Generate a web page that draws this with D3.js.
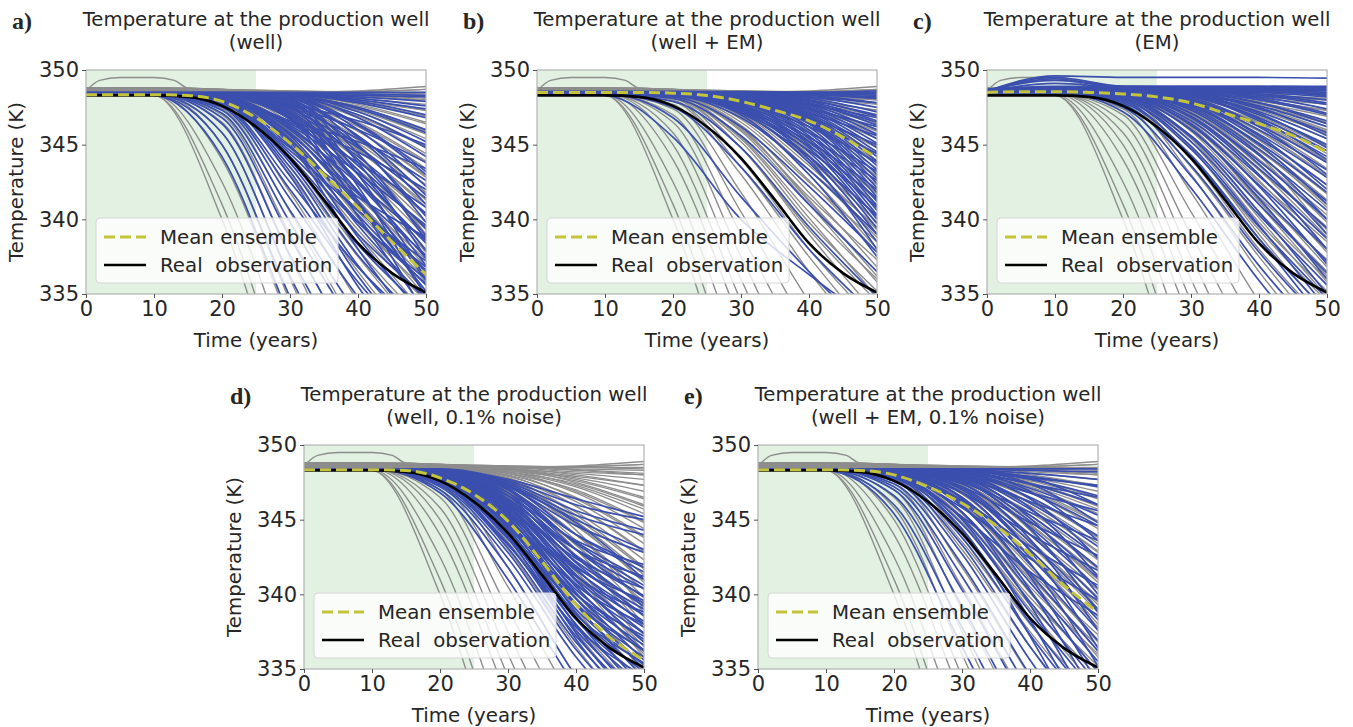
<!DOCTYPE html>
<html><head><meta charset="utf-8">
<script src="https://cdn.jsdelivr.net/npm/d3@7"></script>
<style>
body{margin:0;background:#fff}
svg text{font-family:"DejaVu Sans",sans-serif;fill:#262626}
</style>
</head><body>
<svg id="fig" width="1353" height="727"></svg>
<script>
// Sampling years for every ensemble run
const years = [0, 10, 20, 30, 40, 50];
// Years for the observation and ensemble-mean curves
const obsYears = [0, 5, 10, 15, 20, 25, 30, 35, 40, 45, 50];

const yTicks = [335, 340, 345, 350];
const xTicks = [0, 10, 20, 30, 40, 50];

// Real observation at the production well (K)
const observed = [348.3, 348.3, 348.3, 348.2, 347.6, 346.2, 344.1, 341.3, 338.4, 336.4, 335.1];

// Ensemble means for each case (K)
const meanA = [348.35, 348.35, 348.35, 348.3, 347.9, 346.8, 345.1, 343.0, 340.8, 338.5, 336.3];
const meanB = [348.5, 348.5, 348.5, 348.5, 348.45, 348.3, 347.9, 347.3, 346.6, 345.5, 344.1];
const meanC = [348.5, 348.55, 348.55, 348.5, 348.4, 348.2, 347.8, 347.1, 346.4, 345.6, 344.5];
const meanD = [348.35, 348.35, 348.35, 348.3, 347.8, 346.7, 344.9, 342.2, 339.3, 337.1, 335.6];
const meanE = [348.35, 348.35, 348.35, 348.3, 348.0, 347.2, 346.1, 344.6, 342.7, 340.6, 338.8];

// Prior ensemble (same in every case), temperatures at `years`
const priorRuns = [
 [348.4,348.3,340.0,326,314,306],
 [348.4,348.3,341.0,328,316,308],
 [348.4,348.35,342.5,330.5,319,311],
 [348.4,348.4,344.0,333,322,314],
 [348.4,348.4,345.0,334.5,324,316],
 [348.4,348.4,345.8,336,326,318],
 [348.4,348.4,346.5,337.5,328,320],
 [348.4,348.4,347.0,339,330.5,323],
 [348.4,348.4,347.4,340.5,332.5,326],
 [348.4,348.4,347.7,341.8,334.5,328],
 [348.4,348.4,347.9,343,336.5,331],
 [348.5,348.5,348.1,344,338,333],
 [348.5,348.5,348.2,344.8,339.3,334.5],
 [348.5,348.5,348.3,345.5,340.5,336],
 [348.5,348.5,348.3,346,341.5,337.3],
 [348.5,348.5,348.4,346.5,342.5,338.5],
 [348.5,348.5,348.4,346.9,343.3,339.5],
 [348.5,348.5,348.4,347.2,344,340.3],
 [348.6,348.6,348.5,347.4,344.6,341],
 [348.6,348.6,348.5,347.6,345.1,341.7],
 [348.6,348.6,348.5,347.7,345.5,342.3],
 [348.6,348.6,348.5,347.8,345.9,342.9],
 [348.6,348.6,348.5,347.9,346.2,343.4],
 [348.6,348.6,348.5,348,346.5,343.9],
 [348.6,348.6,348.5,348.1,346.8,344.4],
 [348.6,348.6,348.5,348.1,347,344.9],
 [348.6,348.6,348.6,348.2,347.2,345.4],
 [348.6,348.6,348.6,348.2,347.4,345.9],
 [348.7,348.7,348.6,348.3,347.6,346.4],
 [348.7,348.7,348.6,348.3,347.8,346.9],
 [348.7,348.7,348.6,348.4,347.9,347.3],
 [348.7,348.7,348.6,348.4,348.1,347.7],
 [348.7,348.7,348.6,348.5,348.2,348.0],
 [348.7,348.7,348.6,348.5,348.4,348.3],
 [348.8,348.8,348.7,348.5,348.5,348.5],
 [348.8,348.8,348.7,348.5,348.6,348.9],
 [348.5,348.5,348.0,343.5,337.5,332],
 [348.5,348.5,348.2,345.2,339.8,335.2],
 [348.6,348.6,348.4,346.2,341.2,336.5],
 [348.6,348.6,348.5,347.0,343.0,338.0],
 [348.6,348.6,348.5,347.5,344.3,339.0],
 [348.7,348.7,348.65,348.5,348.3,348.0],
 [348.7,348.7,348.6,348.45,348.0,347.3],
 [348.7,348.7,348.6,348.4,347.7,346.5],
 [348.65,348.65,348.6,348.3,347.3,345.7],
 [348.65,348.65,348.55,348.2,346.9,344.8],
 [348.65,348.65,348.55,348.1,346.4,343.8],
 [348.6,348.6,348.5,347.95,345.9,342.8],
 [348.6,348.6,348.5,347.8,345.3,341.8],
 [348.6,348.6,348.45,347.6,344.7,340.8],
 [348.6,348.6,348.4,347.3,344.0,339.8],
 [348.55,348.55,348.4,347.0,343.3,338.8],
 [348.55,348.55,348.35,346.7,342.6,337.8],
 [348.55,348.55,348.3,346.3,341.8,336.8],
 [348.5,348.5,348.25,345.9,341.0,335.8],
 [348.5,348.5,348.2,345.4,340.1,334.8],
 [348.5,348.5,348.1,344.8,339.0,333.6],
 [348.8,348.8,348.7,348.6,348.5,348.4],
 [348.8,348.8,348.7,348.6,348.55,348.7],
 [348.75,348.75,348.65,348.55,348.35,348.1],
 [348.7,348.7,348.6,348.4,347.5,346.0],
 [348.6,348.6,348.5,347.7,344.9,341.3],
 [348.55,348.55,348.4,347.1,343.6,339.3],
 [348.5,348.5,348.3,346.1,341.3,336.2]
];
// Prior run with an early warm bump
const bumpYears = [0, 2, 5, 10, 13, 15, 20, 25, 35, 50];
const bumpTemps = [348.6, 349.3, 349.5, 349.5, 349.3, 348.8, 348.7, 348.6, 348.5, 348.7];

// Posterior ensembles for the five cases, temperatures at `years`
const runsA = [
 [348.4,348.4,348.4,348.4,348.3,348.2],
 [348.4,348.4,348.4,348.4,348.2,347.9],
 [348.4,348.4,348.4,348.4,348.0,347.4],
 [348.4,348.4,348.4,348.35,347.8,346.8],
 [348.4,348.4,348.4,348.3,347.5,346.0],
 [348.4,348.4,348.4,348.3,347.2,345.2],
 [348.4,348.4,348.4,348.3,346.8,344.2],
 [348.4,348.4,348.4,348.2,346.4,343.2],
 [348.4,348.4,348.4,348.2,346.0,342.2],
 [348.4,348.4,348.4,348.1,345.5,341.0],
 [348.4,348.4,348.4,348.1,345.0,339.8],
 [348.4,348.4,348.4,348.0,344.4,338.6],
 [348.4,348.4,348.4,348.0,343.8,337.4],
 [348.4,348.4,348.4,347.9,343.0,336.0],
 [348.4,348.4,348.4,347.8,342.2,334.8],
 [348.4,348.4,348.4,347.6,341.2,333.5],
 [348.4,348.4,348.35,347.7,346.6,345.0],
 [348.4,348.4,348.35,347.6,346.0,343.8],
 [348.4,348.4,348.35,347.5,345.4,342.6],
 [348.4,348.4,348.3,347.4,344.8,341.4],
 [348.4,348.4,348.3,347.3,344.2,340.4],
 [348.4,348.4,348.3,347.2,343.6,339.4],
 [348.4,348.4,348.3,347.1,343.0,338.4],
 [348.4,348.4,348.3,347.0,342.4,337.4],
 [348.4,348.4,348.3,346.9,341.8,336.4],
 [348.4,348.4,348.3,346.8,341.0,335.2],
 [348.4,348.4,348.3,346.7,340.2,333.8],
 [348.4,348.4,348.25,346.6,345.2,343.4],
 [348.4,348.4,348.25,346.5,344.5,342.0],
 [348.4,348.4,348.2,346.4,343.8,340.8],
 [348.4,348.4,348.2,346.3,343.1,339.6],
 [348.4,348.4,348.2,346.1,342.4,338.6],
 [348.4,348.4,348.2,346.0,341.7,337.6],
 [348.4,348.4,348.15,345.8,341.0,336.6],
 [348.4,348.4,348.15,345.6,340.3,335.6],
 [348.4,348.4,348.1,345.4,339.6,334.6],
 [348.4,348.4,348.1,345.2,338.8,333.4],
 [348.4,348.4,348.1,345.0,338.0,332.0],
 [348.4,348.4,348.05,344.8,341.5,338.8],
 [348.4,348.4,348.0,344.6,340.6,337.2],
 [348.4,348.4,348.0,344.4,339.8,336.0],
 [348.4,348.4,348.0,344.2,339.0,334.8],
 [348.4,348.4,347.95,344.0,338.3,333.8],
 [348.4,348.4,347.9,343.8,337.6,332.8],
 [348.4,348.4,347.9,343.5,336.9,331.8],
 [348.4,348.4,347.85,343.2,336.2,330.8],
 [348.4,348.4,347.8,342.9,335.5,329.8],
 [348.4,348.4,347.7,342.5,336.8,332.5],
 [348.4,348.4,347.6,342.0,335.8,331.0],
 [348.4,348.4,347.5,341.4,334.8,329.5],
 [348.4,348.4,347.3,340.6,333.6,328.0],
 [348.4,348.4,347.1,339.8,332.4,326.5],
 [348.4,348.4,346.8,338.8,331.0,325.0],
 [348.4,348.4,346.4,337.6,329.5,323.0],
 [348.4,348.35,345.8,336.2,327.5,321.0],
 [348.4,348.3,345.0,334.8,325.5,318.5],
 [348.4,348.3,344.2,333.4,323.5,316.0],
 [348.5,348.5,348.5,348.5,348.5,348.5],
 [348.5,348.5,348.5,348.45,348.4,348.3],
 [348.45,348.45,348.45,348.4,348.1,347.6],
 [348.45,348.45,348.45,348.4,347.9,347.0],
 [348.45,348.45,348.4,348.3,347.4,345.8],
 [348.45,348.45,348.4,348.2,347.0,344.8],
 [348.45,348.45,348.4,348.1,346.3,343.0],
 [348.45,348.45,348.35,347.9,345.6,341.6],
 [348.45,348.45,348.35,347.7,344.9,340.2],
 [348.4,348.4,348.3,347.45,344.0,338.9],
 [348.4,348.4,348.3,347.1,343.3,337.9],
 [348.4,348.4,348.25,346.7,342.6,336.9],
 [348.4,348.4,348.2,346.2,341.9,335.9],
 [348.4,348.4,348.15,345.7,341.2,334.9],
 [348.4,348.4,348.1,345.3,340.6,336.8],
 [348.4,348.4,348.05,344.9,339.9,335.7]
];

const runsB = [
 [348.5,348.5,348.5,348.5,348.5,348.6],
 [348.5,348.5,348.5,348.5,348.5,348.5],
 [348.5,348.5,348.5,348.5,348.45,348.3],
 [348.5,348.5,348.5,348.5,348.4,348.1],
 [348.5,348.5,348.5,348.45,348.3,347.8],
 [348.5,348.5,348.5,348.45,348.2,347.5],
 [348.5,348.5,348.5,348.4,348.1,347.2],
 [348.5,348.5,348.5,348.4,348.0,346.9],
 [348.5,348.5,348.5,348.4,347.9,346.6],
 [348.5,348.5,348.5,348.35,347.8,346.3],
 [348.5,348.5,348.5,348.35,347.7,346.0],
 [348.5,348.5,348.5,348.3,347.6,345.7],
 [348.5,348.5,348.5,348.3,347.5,345.4],
 [348.5,348.5,348.5,348.3,347.4,345.1],
 [348.5,348.5,348.5,348.25,347.3,344.8],
 [348.5,348.5,348.5,348.25,347.2,344.5],
 [348.5,348.5,348.5,348.2,347.1,344.2],
 [348.5,348.5,348.5,348.2,347.0,343.9],
 [348.5,348.5,348.5,348.2,346.9,343.6],
 [348.5,348.5,348.5,348.15,346.8,343.3],
 [348.5,348.5,348.5,348.1,346.7,343.0],
 [348.5,348.5,348.5,348.1,346.6,342.7],
 [348.5,348.5,348.5,348.05,346.5,342.4],
 [348.5,348.5,348.5,348.0,346.4,342.1],
 [348.5,348.5,348.45,348.0,346.2,341.8],
 [348.5,348.5,348.45,347.95,346.0,341.5],
 [348.5,348.5,348.45,347.9,345.8,341.2],
 [348.5,348.5,348.45,347.85,345.6,340.9],
 [348.5,348.5,348.45,347.8,345.4,340.6],
 [348.5,348.5,348.4,347.7,345.2,340.3],
 [348.5,348.5,348.4,347.6,345.0,340.0],
 [348.5,348.5,348.4,347.5,344.8,339.7],
 [348.5,348.5,348.4,347.4,344.5,339.4],
 [348.5,348.5,348.4,347.3,344.2,339.0],
 [348.5,348.5,348.5,348.3,347.7,346.8],
 [348.5,348.5,348.5,348.2,347.4,346.2],
 [348.5,348.5,348.5,348.1,347.1,345.6],
 [348.5,348.5,348.5,348.0,346.8,345.0],
 [348.5,348.5,348.45,347.9,346.5,344.4],
 [348.5,348.5,348.45,347.8,346.2,343.8],
 [348.5,348.5,348.4,347.6,345.8,343.2],
 [348.5,348.5,348.4,347.5,345.5,342.6],
 [348.5,348.5,348.4,347.4,345.2,342.0],
 [348.5,348.5,348.4,347.3,344.9,341.4],
 [348.5,348.5,348.35,347.2,344.6,340.8],
 [348.5,348.5,348.35,347.1,344.2,340.2],
 [348.5,348.5,348.5,348.4,348.2,347.8],
 [348.5,348.5,348.5,348.45,348.35,348.1],
 [348.55,348.55,348.55,348.55,348.5,348.4],
 [348.55,348.55,348.55,348.5,348.4,348.2],
 [348.5,348.5,348.5,348.4,347.95,347.0],
 [348.5,348.5,348.5,348.35,347.75,346.5],
 [348.4,348.3,345.5,340.0,336.3,333.0],
 [348.4,348.4,346.8,341.5,336.5,332.0],
 [348.4,348.4,347.5,343.5,338.0,333.5],
 [348.4,348.4,347.9,344.8,339.5,334.8],
 [348.4,348.4,348.1,345.6,341.0,336.5],
 [348.4,348.4,348.2,346.2,342.2,337.8],
 [348.5,348.5,348.3,346.8,343.3,339.0],
 [348.5,348.5,348.3,347.0,343.0,337.5],
 [348.5,348.5,348.35,347.2,343.8,338.5],
 [348.5,348.5,348.4,347.5,344.0,338.0]
];

const runsC = [
 [348.7,348.9,348.9,348.9,348.9,348.9],
 [348.7,348.85,348.85,348.85,348.85,348.85],
 [348.7,348.8,348.8,348.8,348.8,348.8],
 [348.65,348.8,348.8,348.8,348.75,348.7],
 [348.65,348.75,348.75,348.75,348.7,348.6],
 [348.6,348.7,348.7,348.7,348.65,348.5],
 [348.6,348.7,348.7,348.7,348.6,348.4],
 [348.6,348.7,348.7,348.65,348.5,348.2],
 [348.6,348.65,348.65,348.6,348.4,348.0],
 [348.6,348.65,348.65,348.6,348.3,347.7],
 [348.6,348.6,348.6,348.55,348.2,347.4],
 [348.6,348.6,348.6,348.5,348.0,347.0],
 [348.55,348.6,348.6,348.5,347.8,346.6],
 [348.55,348.6,348.6,348.45,347.6,346.2],
 [348.55,348.6,348.6,348.4,347.4,345.8],
 [348.55,348.6,348.55,348.35,347.2,345.4],
 [348.55,348.55,348.55,348.3,347.0,345.0],
 [348.55,348.55,348.55,348.25,346.8,344.6],
 [348.5,348.55,348.5,348.2,346.6,344.2],
 [348.5,348.55,348.5,348.1,346.3,343.8],
 [348.5,348.5,348.5,348.0,346.0,343.3],
 [348.5,348.5,348.5,347.9,345.7,342.8],
 [348.5,348.5,348.45,347.8,345.4,342.3],
 [348.5,348.5,348.45,347.7,345.1,341.8],
 [348.5,348.5,348.4,347.5,344.7,341.2],
 [348.5,348.5,348.4,347.3,344.3,340.6],
 [348.5,348.5,348.4,347.1,343.9,340.0],
 [348.5,348.5,348.35,346.9,343.4,339.4],
 [348.5,348.5,348.3,346.6,342.9,338.7],
 [348.5,348.5,348.3,346.3,342.3,338.0],
 [348.5,348.5,348.25,346.0,341.7,337.2],
 [348.5,348.5,348.2,345.6,341.0,336.4],
 [348.5,348.5,348.1,345.2,340.3,335.6],
 [348.5,348.5,348.0,344.7,339.5,334.7],
 [348.5,348.5,347.9,344.2,338.7,333.8],
 [348.5,348.5,347.7,343.6,337.8,332.8],
 [348.5,348.5,347.5,342.9,336.9,331.7],
 [348.5,348.5,347.2,342.1,335.9,330.5],
 [348.65,348.8,348.8,348.75,348.6,348.3],
 [348.65,348.75,348.75,348.7,348.4,347.8],
 [348.6,348.7,348.7,348.6,348.1,347.1],
 [348.6,348.7,348.65,348.5,347.8,346.4],
 [348.6,348.65,348.6,348.4,347.5,345.6],
 [348.6,348.6,348.6,348.3,347.1,344.8],
 [348.55,348.6,348.55,348.2,346.7,344.0],
 [348.55,348.55,348.5,348.0,346.2,343.0],
 [348.5,348.55,348.5,347.8,345.6,342.0],
 [348.5,348.5,348.45,347.6,345.0,341.0],
 [348.5,348.5,348.4,347.4,344.4,340.0],
 [348.5,348.5,348.35,347.1,343.7,339.0],
 [348.5,348.5,348.3,346.8,343.0,338.0],
 [348.5,348.5,348.25,346.4,342.2,337.0],
 [348.5,348.5,348.2,346.0,341.4,336.0],
 [348.5,348.5,348.1,345.5,340.5,335.0],
 [348.5,348.5,348.0,344.9,339.6,334.0],
 [348.5,348.5,347.8,344.3,338.7,333.0],
 [348.6,349.6,349.5,349.5,349.5,349.45],
 [348.6,349.5,348.9,348.85,348.85,348.8],
 [348.6,349.3,348.9,348.9,348.9,348.85],
 [348.6,349.1,348.85,348.8,348.8,348.7],
 [348.6,349.4,348.8,348.75,348.6,348.3]
];

const runsD = [
 [348.4,348.4,347.2,342.4,335.8,331.0],
 [348.4,348.4,347.3,342.8,336.3,331.6],
 [348.4,348.4,347.4,343.1,336.8,332.2],
 [348.4,348.4,347.5,343.4,337.2,332.8],
 [348.4,348.4,347.55,343.7,337.6,333.3],
 [348.4,348.4,347.6,343.9,338.0,333.8],
 [348.4,348.4,347.65,344.1,338.3,334.3],
 [348.4,348.4,347.7,344.3,338.7,334.8],
 [348.4,348.4,347.75,344.5,339.0,335.3],
 [348.4,348.4,347.8,344.7,339.4,335.8],
 [348.4,348.4,347.85,344.9,339.7,336.2],
 [348.4,348.4,347.9,345.1,340.0,336.6],
 [348.4,348.4,347.95,345.3,340.3,337.0],
 [348.4,348.4,348.0,345.5,340.7,337.4],
 [348.4,348.4,348.0,345.6,341.0,337.8],
 [348.4,348.4,348.05,345.8,341.3,338.2],
 [348.4,348.4,348.1,345.9,341.6,338.6],
 [348.4,348.4,348.1,346.1,341.9,339.0],
 [348.4,348.4,348.15,346.2,342.2,339.4],
 [348.4,348.4,348.2,346.4,342.6,339.9],
 [348.4,348.4,348.2,346.6,343.0,340.4],
 [348.4,348.4,348.25,346.8,343.5,341.0],
 [348.4,348.4,348.3,347.0,344.0,341.8],
 [348.4,348.4,348.3,347.2,344.6,342.8],
 [348.4,348.4,348.35,347.4,345.3,344.0],
 [348.4,348.4,348.35,347.6,346.0,345.0],
 [348.4,348.4,347.6,343.8,337.0,331.5],
 [348.4,348.4,347.7,344.1,337.4,332.0],
 [348.4,348.4,347.8,344.4,337.9,332.6],
 [348.4,348.4,347.85,344.7,338.4,333.2],
 [348.4,348.4,347.9,344.9,338.8,333.8],
 [348.4,348.4,347.95,345.2,339.3,334.4],
 [348.4,348.4,348.0,345.4,339.7,335.0],
 [348.4,348.4,348.05,345.6,340.1,335.6],
 [348.4,348.4,348.1,345.8,340.5,336.2],
 [348.4,348.4,348.15,346.0,340.9,336.8],
 [348.4,348.4,348.2,346.2,341.3,337.4],
 [348.4,348.4,348.2,346.4,341.7,338.0],
 [348.4,348.4,348.25,346.6,342.1,338.6],
 [348.4,348.4,348.3,346.8,342.5,339.2],
 [348.4,348.4,348.3,347.0,343.0,339.8],
 [348.4,348.4,348.3,347.1,343.4,340.6],
 [348.4,348.4,348.35,347.3,344.0,341.5],
 [348.4,348.4,347.5,343.3,337.8,334.5],
 [348.4,348.4,347.7,343.8,338.6,335.4],
 [348.4,348.4,347.8,344.2,339.3,336.3],
 [348.4,348.4,347.9,344.6,340.0,337.2],
 [348.4,348.4,348.0,345.0,340.6,338.0],
 [348.4,348.4,348.1,345.4,341.2,338.8],
 [348.4,348.4,348.15,345.7,341.8,339.6],
 [348.4,348.4,348.2,346.0,342.4,340.4],
 [348.4,348.4,348.25,346.3,343.0,341.2],
 [348.4,348.4,348.3,346.6,343.6,342.0],
 [348.4,348.4,348.35,347.5,345.6,344.3],
 [348.4,348.4,348.4,347.7,346.4,345.2],
 [348.4,348.4,348.35,347.3,345.0,343.0],
 [348.4,348.4,348.3,347.2,344.8,341.0],
 [348.4,348.4,347.0,341.8,334.5,329.0],
 [348.4,348.4,346.8,341.0,333.8,328.0]
];

const runsE = [
 [348.4,348.4,348.4,348.4,348.4,348.4],
 [348.4,348.4,348.4,348.4,348.3,348.2],
 [348.4,348.4,348.4,348.35,348.1,347.7],
 [348.4,348.4,348.4,348.3,347.9,347.2],
 [348.4,348.4,348.4,348.3,347.7,346.6],
 [348.4,348.4,348.4,348.25,347.4,346.0],
 [348.4,348.4,348.4,348.2,347.1,345.3],
 [348.4,348.4,348.4,348.15,346.8,344.6],
 [348.4,348.4,348.4,348.1,346.5,343.9],
 [348.4,348.4,348.35,348.0,346.1,343.2],
 [348.4,348.4,348.35,347.9,345.7,342.5],
 [348.4,348.4,348.35,347.8,345.3,341.8],
 [348.4,348.4,348.3,347.7,344.9,341.1],
 [348.4,348.4,348.3,347.6,344.5,340.4],
 [348.4,348.4,348.3,347.4,344.0,339.7],
 [348.4,348.4,348.3,347.2,343.5,339.0],
 [348.4,348.4,348.25,347.0,343.0,338.3],
 [348.4,348.4,348.2,346.8,342.5,337.6],
 [348.4,348.4,348.2,346.5,342.0,336.9],
 [348.4,348.4,348.15,346.2,341.4,336.2],
 [348.4,348.4,348.1,345.9,340.8,335.5],
 [348.4,348.4,348.05,345.5,340.2,334.8],
 [348.4,348.4,348.0,345.1,339.5,334.0],
 [348.4,348.4,347.95,344.7,338.8,333.2],
 [348.4,348.4,347.9,344.3,338.1,332.4],
 [348.4,348.4,347.8,343.8,337.3,331.5],
 [348.4,348.4,347.7,343.3,336.5,330.6],
 [348.4,348.4,347.6,342.7,335.6,329.6],
 [348.4,348.4,347.4,342.0,334.6,328.5],
 [348.4,348.4,347.2,341.2,333.5,327.3],
 [348.4,348.4,347.0,340.3,332.3,326.0],
 [348.4,348.35,346.6,339.2,331.0,324.5],
 [348.4,348.3,346.0,337.8,329.3,322.5],
 [348.4,348.3,345.4,336.5,327.8,321.0],
 [348.4,348.4,348.4,348.35,347.8,346.0],
 [348.4,348.4,348.4,348.3,347.4,344.8],
 [348.4,348.4,348.4,348.2,346.9,343.6],
 [348.4,348.4,348.35,348.1,346.4,342.4],
 [348.4,348.4,348.35,347.95,345.8,341.2],
 [348.4,348.4,348.3,347.8,345.1,340.0],
 [348.4,348.4,348.3,347.6,344.4,338.8],
 [348.4,348.4,348.3,347.4,343.7,337.6],
 [348.4,348.4,348.25,347.1,342.9,336.4],
 [348.4,348.4,348.2,346.8,342.1,335.2],
 [348.4,348.4,348.15,346.4,341.2,334.0],
 [348.4,348.4,348.1,346.0,340.3,332.8],
 [348.4,348.4,348.0,345.5,339.3,331.5],
 [348.4,348.4,347.9,345.0,338.3,330.2],
 [348.4,348.4,347.8,344.4,337.2,329.0],
 [348.4,348.4,348.4,348.3,347.8,347.3],
 [348.4,348.4,348.4,348.2,347.4,346.5],
 [348.4,348.4,348.35,348.0,346.8,345.6],
 [348.4,348.4,348.3,347.8,346.2,344.6],
 [348.4,348.4,348.3,347.5,345.5,343.6],
 [348.4,348.4,348.25,347.2,344.8,342.6],
 [348.4,348.4,348.2,346.8,344.0,341.6],
 [348.4,348.4,348.1,346.3,343.2,340.6],
 [348.4,348.4,348.0,345.8,342.4,339.6],
 [348.4,348.4,347.9,345.2,341.5,338.6]
];

const titleMain = "Temperature at the production well";
const panels = [
 {tag: "a)", sub: "(well)",                  runs: runsA, mean: meanA, left: 86,  top: 70},
 {tag: "b)", sub: "(well + EM)",             runs: runsB, mean: meanB, left: 537, top: 70},
 {tag: "c)", sub: "(EM)",                    runs: runsC, mean: meanC, left: 987, top: 70},
 {tag: "d)", sub: "(well, 0.1% noise)",      runs: runsD, mean: meanD, left: 304, top: 445},
 {tag: "e)", sub: "(well + EM, 0.1% noise)", runs: runsE, mean: meanE, left: 758, top: 445}
];

const W = 340, H = 224;
const svg = d3.select("#fig");
const x = d3.scaleLinear().domain([0, 50]).range([0, W]);
const y = d3.scaleLinear().domain([335, 350]).range([H, 0]);
const line = (xs) => d3.line().x((d, i) => x(xs[i])).y(d => y(d)).curve(d3.curveMonotoneX);

panels.forEach((p, k) => {
  const g = svg.append("g").attr("transform", `translate(${p.left},${p.top})`);
  const clipId = "clip" + k;
  g.append("clipPath").attr("id", clipId)
    .append("rect").attr("width", W).attr("height", H);

  // history-matching window
  g.append("rect").attr("x", x(0)).attr("y", 0)
    .attr("width", x(25) - x(0)).attr("height", H)
    .attr("fill", "#e2f1e2");

  const plot = g.append("g").attr("clip-path", `url(#${clipId})`);
  plot.selectAll("path.prior").data(priorRuns).join("path")
    .attr("class", "prior").attr("d", line(years))
    .attr("fill", "none").attr("stroke", "#8d8d8d").attr("stroke-width", 1.4);
  plot.append("path").attr("d", line(bumpYears)(bumpTemps))
    .attr("fill", "none").attr("stroke", "#8d8d8d").attr("stroke-width", 1.4);
  plot.selectAll("path.post").data(p.runs).join("path")
    .attr("class", "post").attr("d", line(years))
    .attr("fill", "none").attr("stroke", "#3b4fae").attr("stroke-width", 1.7);
  plot.append("path").attr("d", line(obsYears)(observed))
    .attr("fill", "none").attr("stroke", "#000").attr("stroke-width", 2.6);
  plot.append("path").attr("d", line(obsYears)(p.mean))
    .attr("fill", "none").attr("stroke", "#c4c43a").attr("stroke-width", 3)
    .attr("stroke-dasharray", "11,5");

  // frame
  g.append("rect").attr("width", W).attr("height", H)
    .attr("fill", "none").attr("stroke", "#b3b3b3").attr("stroke-width", 1.2);

  const ax = g.append("g").attr("transform", `translate(0,${H})`)
    .call(d3.axisBottom(x).tickValues(xTicks).tickSize(4).tickPadding(3));
  const ay = g.append("g")
    .call(d3.axisLeft(y).tickValues(yTicks).tickSize(4).tickPadding(3));
  [ax, ay].forEach(a => {
    a.select(".domain").remove();
    a.selectAll(".tick line").attr("stroke", "#555");
    a.selectAll(".tick text").style("font-size", "21px").attr("fill", "#262626")
      .style("font-family", "'DejaVu Sans', sans-serif");
  });

  // titles and labels
  g.append("text").attr("x", W / 2).attr("y", -44).attr("text-anchor", "middle")
    .style("font-size", "19.7px").text(titleMain);
  g.append("text").attr("x", W / 2).attr("y", -21).attr("text-anchor", "middle")
    .style("font-size", "19.7px").text(p.sub);
  g.append("text").attr("x", W / 2).attr("y", H + 53).attr("text-anchor", "middle")
    .style("font-size", "19.8px").text("Time (years)");
  g.append("text").attr("transform", `translate(-63,${H / 2}) rotate(-90)`)
    .attr("text-anchor", "middle").style("font-size", "19.8px").text("Temperature (K)");
  svg.append("text").attr("x", p.left - 74).attr("y", p.top - 41)
    .style("font-family", "'Liberation Serif', 'DejaVu Serif', serif")
    .style("font-weight", "bold").style("font-size", "24px").attr("fill", "#111")
    .text(p.tag);

  // legend
  const lg = g.append("g").attr("transform", `translate(10,${H - 76})`);
  lg.append("rect").attr("width", 242).attr("height", 65).attr("rx", 4)
    .attr("fill", "#fff").attr("fill-opacity", 0.8).attr("stroke", "#d6d6d6");
  lg.append("line").attr("x1", 8).attr("x2", 50).attr("y1", 19).attr("y2", 19)
    .attr("stroke", "#c4c43a").attr("stroke-width", 3).attr("stroke-dasharray", "11,5");
  lg.append("line").attr("x1", 8).attr("x2", 50).attr("y1", 47).attr("y2", 47)
    .attr("stroke", "#000").attr("stroke-width", 2.6);
  lg.append("text").attr("x", 64).attr("y", 26).style("font-size", "19.8px").text("Mean ensemble");
  lg.append("text").attr("x", 64).attr("y", 54).style("font-size", "19.8px")
    .style("white-space", "pre").text("Real  observation");
});
</script>
</body></html>
